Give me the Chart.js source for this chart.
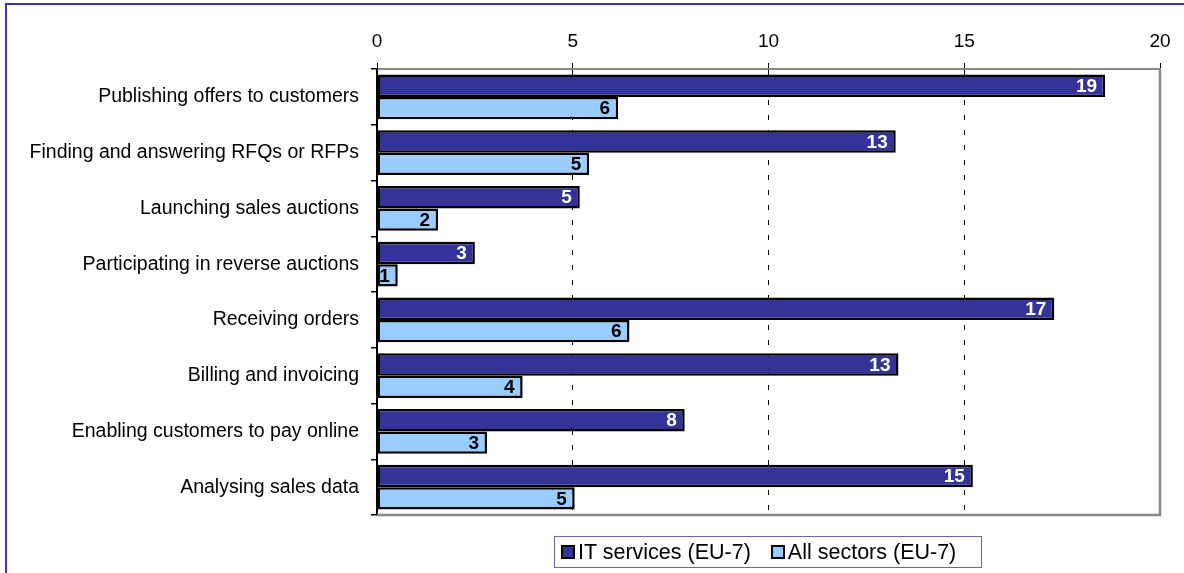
<!DOCTYPE html>
<html>
<head>
<meta charset="utf-8">
<script src="https://cdn.jsdelivr.net/npm/chart.js@4"></script>
<style>
  html, body { margin: 0; padding: 0; background: #fff; }
  body { width: 1184px; height: 573px; position: relative; overflow: hidden; font-family: "Liberation Sans", Arial, sans-serif; }
  #frame { position: absolute; left: 5px; top: 3px; width: 1190px; height: 590px; border-top: 2px solid #3a3aa6; border-left: 2px solid #3a3aa6; box-sizing: border-box; }
  #wrap { position: absolute; left: 0; top: 0; width: 1184px; height: 573px; }
  #legend { position: absolute; left: 554px; top: 536px; width: 428px; height: 32px; border: 1px solid #6666b0; box-sizing: border-box; display: flex; align-items: center; padding-left: 6px; font-size: 21.5px; color: #000; white-space: nowrap; }
  .lg-item { display: flex; align-items: center; margin-right: 20px; }
  .lg-box { width: 10px; height: 10px; border: 2px solid #000; margin-right: 3px; }
</style>
</head>
<body>
<div id="frame"></div>
<div id="wrap"><canvas id="chartSales" width="1184" height="573"></canvas></div>
<div id="legend"></div>
<script>
// ── DATA ─────────────────────────────────────────
const categories = [
  'Publishing offers to customers',
  'Finding and answering RFQs or RFPs',
  'Launching sales auctions',
  'Participating in reverse auctions',
  'Receiving orders',
  'Billing and invoicing',
  'Enabling customers to pay online',
  'Analysing sales data'
];
const itServices = [18.6, 13.25, 5.18, 2.5, 17.3, 13.32, 7.86, 15.22];
const allSectors = [6.16, 5.42, 1.56, 0.53, 6.45, 3.72, 2.81, 5.05];
const xTicks     = [0, 5, 10, 15, 20];

const seriesNames  = ['IT services (EU-7)', 'All sectors (EU-7)'];
const seriesColors = ['#333399', '#99ccff'];
const labelColors  = ['#ffffff', '#000000'];

const FONT = '"Liberation Sans", Arial, sans-serif';

// value labels drawn inside the end of each bar
const barValueLabels = {
  id: 'barValueLabels',
  afterDatasetsDraw(chart) {
    const ctx = chart.ctx;
    ctx.save();
    ctx.font = 'bold 19px ' + FONT;
    ctx.textAlign = 'right';
    ctx.textBaseline = 'middle';
    chart.data.datasets.forEach((ds, di) => {
      chart.getDatasetMeta(di).data.forEach((bar, i) => {
        ctx.fillStyle = labelColors[di];
        ctx.fillText(String(Math.round(ds.data[i])), bar.x - 8, bar.y + 1);
      });
    });
    ctx.restore();
  }
};

// gray frame on the right and bottom of the plot
const plotFrame = {
  id: 'plotFrame',
  beforeDatasetsDraw(chart) {
    const { ctx, chartArea: a } = chart;
    ctx.save();
    ctx.strokeStyle = '#888888';
    ctx.lineWidth = 2.5;
    ctx.beginPath();
    ctx.moveTo(a.left, a.bottom);
    ctx.lineTo(a.right, a.bottom);
    ctx.lineTo(a.right, a.top);
    ctx.stroke();
    ctx.restore();
  }
};

new Chart(document.getElementById('chartSales'), {
  type: 'bar',
  data: {
    labels: categories,
    datasets: [
      { label: seriesNames[0], data: itServices, backgroundColor: seriesColors[0] },
      { label: seriesNames[1], data: allSectors, backgroundColor: seriesColors[1] }
    ]
  },
  options: {
    indexAxis: 'y',
    responsive: false,
    animation: false,
    devicePixelRatio: 1,
    datasets: {
      bar: { borderColor: '#000', borderWidth: 2.5, borderSkipped: false, categoryPercentage: 0.8, barPercentage: 1.0 }
    },
    layout: { padding: { left: 0, top: 0, right: 24, bottom: 58 } },
    scales: {
      x: {
        position: 'top',
        min: 0, max: 20,
        afterBuildTicks: s => { s.ticks = xTicks.map(v => ({ value: v })); },
        afterFit: s => { s.height = 69; },
        ticks: { color: '#000', font: { size: 19, family: FONT }, padding: 10, maxRotation: 0 },
        grid: {
          color: c => (c.tick && c.tick.value > 0 && c.tick.value < 20) ? '#000' : 'rgba(0,0,0,0)',
          lineWidth: 1,
          tickColor: '#000',
          tickLength: 6
        },
        border: { display: true, color: '#888888', width: 2, dash: [5, 10] }
      },
      y: {
        afterFit: s => { s.width = 377; },
        ticks: { color: '#000', font: { size: 19.5, family: FONT }, padding: 12 },
        grid: { offset: true, drawOnChartArea: false, tickColor: '#000', tickLength: 6, lineWidth: 1.5 },
        border: { display: true, color: '#000', width: 2 }
      }
    },
    plugins: {
      legend: { display: false },
      tooltip: { enabled: false }
    }
  },
  plugins: [plotFrame, barValueLabels]
});

// legend with a boxed outline below the plot
document.getElementById('legend').innerHTML = seriesNames.map((n, i) =>
  `<div class="lg-item"><div class="lg-box" style="background:${seriesColors[i]}"></div><span>${n}</span></div>`
).join('');
</script>
</body>
</html>
